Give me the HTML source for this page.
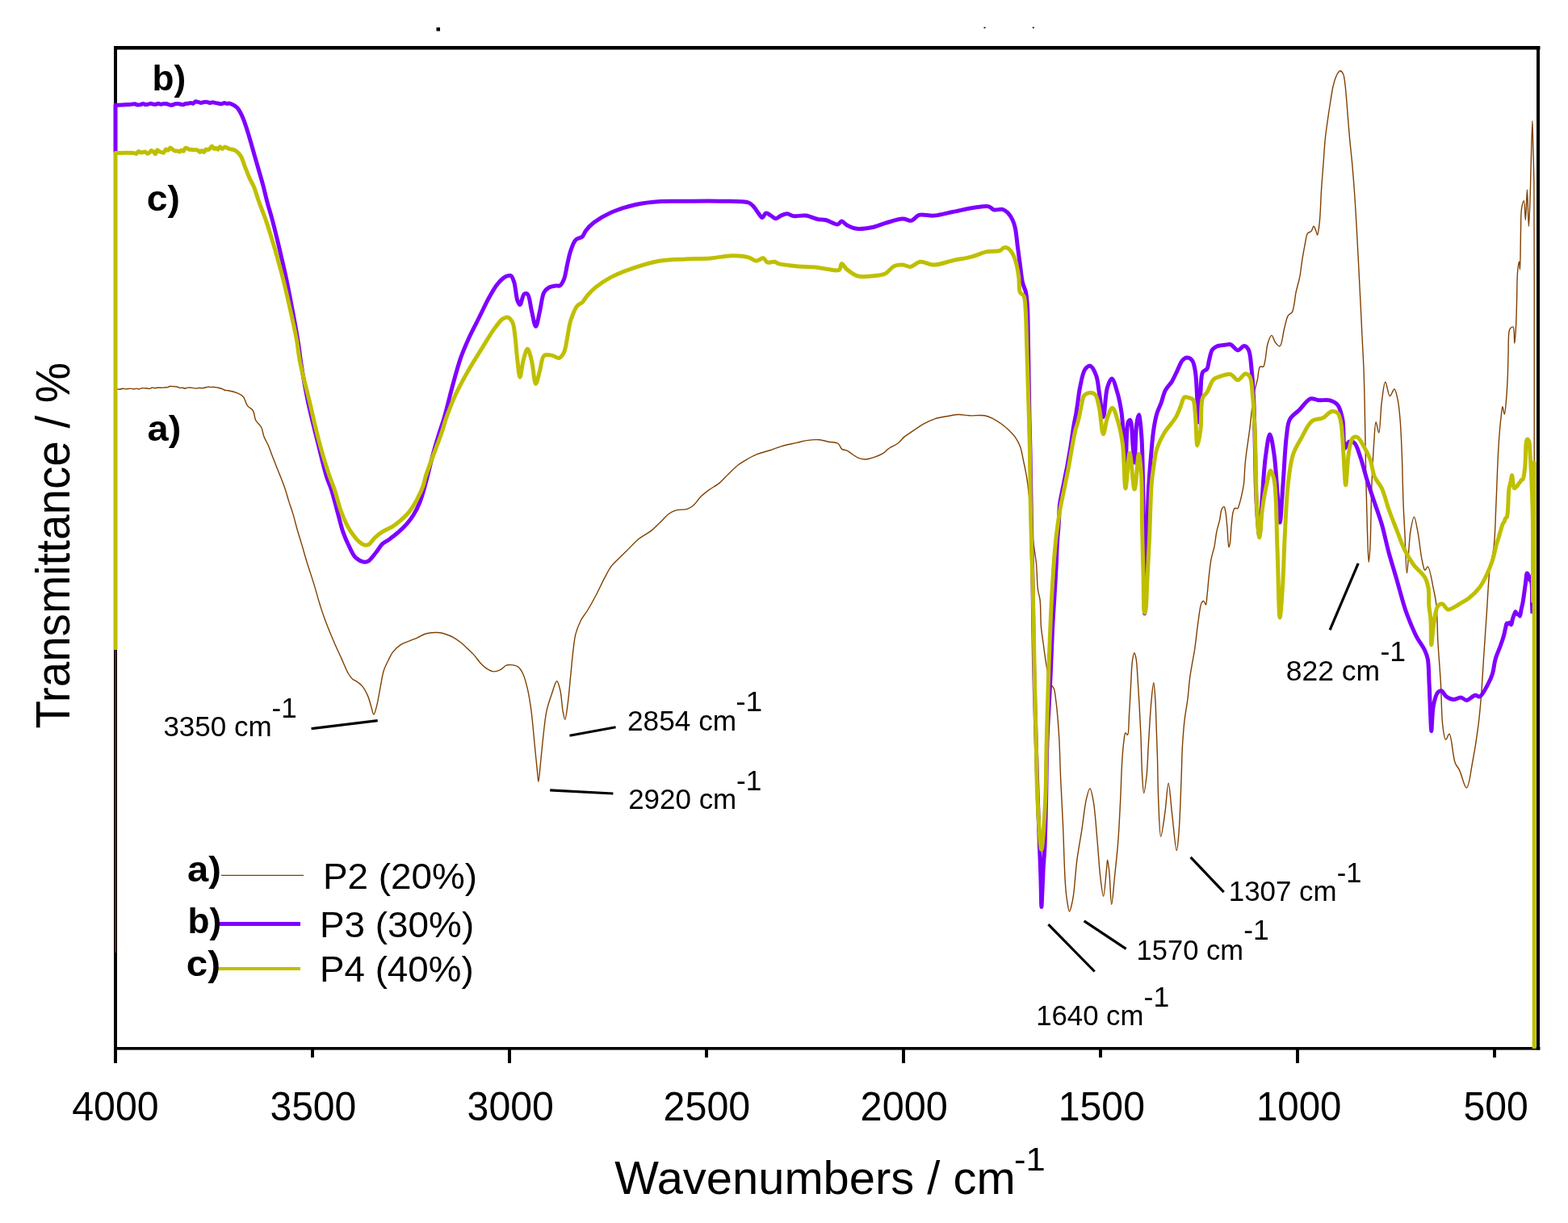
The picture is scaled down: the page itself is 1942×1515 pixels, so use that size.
<!DOCTYPE html>
<html><head><meta charset="utf-8"><title>FTIR spectra</title><style>html,body{margin:0;padding:0;background:#fff;}svg{display:block;}</style></head><body>
<svg width="1942" height="1515" viewBox="0 0 1942 1515" font-family="'Liberation Sans', Arial, Helvetica, sans-serif">
<rect width="1942" height="1515" fill="#fff"/>
<g fill="#000">
<rect x="141" y="57" width="1766.5" height="4.5"/>
<rect x="141" y="57" width="4" height="1243.5"/>
<rect x="1903" y="57" width="4" height="1243.5"/>
<rect x="141" y="1297" width="1766.5" height="3.6"/>
<rect x="141.0" y="1298" width="4" height="19"/>
<rect x="385.0" y="1298" width="4" height="12"/>
<rect x="629.0" y="1298" width="4" height="19"/>
<rect x="873.0" y="1298" width="4" height="12"/>
<rect x="1117.0" y="1298" width="4" height="19"/>
<rect x="1361.0" y="1298" width="4" height="12"/>
<rect x="1605.0" y="1298" width="4" height="19"/>
<rect x="1849.0" y="1298" width="4" height="12"/>
<rect x="540.5" y="34" width="4.5" height="4.5"/>
<rect x="1218.5" y="33.5" width="2" height="1.6"/>
<rect x="1278.8" y="33.5" width="2" height="1.6"/>
</g>
<path d="M143.0 1180.0L143.0 482.0C143.7 482.0 144.3 482.0 145.1 482.0C146.1 482.0 147.4 482.4 148.5 482.3C149.7 482.1 150.8 481.3 152.0 481.2C153.1 481.2 154.3 481.9 155.4 481.9C156.5 482.0 157.7 481.6 158.8 481.5C160.0 481.4 161.1 481.3 162.3 481.4C163.4 481.5 164.6 482.0 165.7 482.0C166.8 482.0 167.9 481.1 168.9 481.1C170.0 481.1 171.1 482.1 172.1 482.1C173.2 482.1 174.3 481.1 175.4 480.9C176.4 480.7 177.5 480.9 178.6 480.9C179.7 481.0 180.8 480.9 181.8 481.0C182.9 481.1 184.0 481.7 185.1 481.6C186.1 481.5 187.2 480.3 188.3 480.2C189.3 480.1 190.4 480.7 191.5 480.7C192.6 480.7 193.6 480.4 194.7 480.3C195.7 480.2 196.8 480.2 197.9 480.2C198.9 480.2 200.0 480.4 201.1 480.4C202.1 480.4 203.2 480.1 204.2 480.0C205.3 479.9 206.4 480.0 207.4 479.8C208.5 479.5 209.5 478.7 210.6 478.5C211.7 478.4 212.8 478.5 213.8 478.6C214.8 478.7 215.8 478.8 216.8 478.9C217.8 479.0 218.8 479.0 219.8 479.2C220.8 479.5 221.8 480.3 222.8 480.5C223.8 480.7 224.8 480.2 225.8 480.3C226.9 480.4 228.1 481.2 229.2 481.2C230.4 481.2 231.5 480.2 232.7 480.1C233.8 480.0 235.0 480.2 236.1 480.3C237.3 480.4 238.4 480.4 239.6 480.6C240.7 480.7 241.9 481.2 243.0 481.2C244.1 481.2 245.0 480.6 246.1 480.5C247.1 480.4 248.1 480.7 249.1 480.7C250.1 480.7 251.2 480.8 252.2 480.6C253.2 480.5 254.2 480.1 255.2 479.8C256.2 479.6 257.3 479.2 258.3 479.2C259.3 479.2 260.3 479.6 261.3 479.6C262.4 479.7 263.3 479.5 264.4 479.5C265.6 479.5 267.0 479.7 268.2 479.9C269.5 480.2 270.9 480.5 272.1 480.8C273.3 481.1 274.4 481.5 275.5 481.9C276.7 482.4 277.8 483.2 279.0 483.5C280.1 483.8 280.9 483.5 282.4 483.8C285.2 484.3 291.1 485.7 294.5 487.2C297.2 488.4 299.4 489.4 301.3 491.5C303.6 494.1 304.3 499.6 306.5 502.6C308.4 505.1 311.6 505.9 313.3 508.6C315.3 511.7 315.0 517.2 316.8 520.7C318.5 524.0 321.9 525.9 323.6 529.2C325.4 532.7 325.6 537.5 327.1 541.3C328.5 544.9 330.6 547.8 332.2 551.5C334.0 555.7 335.5 560.5 337.4 565.3C339.5 570.7 341.8 576.3 344.2 582.4C346.9 589.3 350.4 597.7 352.8 604.7C354.9 610.8 356.2 616.3 358.0 621.9C359.7 627.2 361.5 632.0 363.1 637.4C364.9 643.3 366.4 650.1 368.2 656.2C369.9 662.1 371.6 667.2 373.4 673.4C375.6 680.6 377.8 689.0 380.3 697.0C382.9 705.4 385.9 714.0 388.6 722.9C391.5 732.3 394.2 742.9 397.2 752.1C399.9 760.5 402.7 768.4 405.7 776.1C408.5 783.3 411.4 790.0 414.3 796.7C417.1 803.2 420.0 809.3 422.9 815.6C425.8 821.9 428.8 829.9 431.5 834.5C433.3 837.5 434.6 839.6 436.6 841.3C438.4 842.9 440.7 843.3 442.6 844.7C444.7 846.2 446.7 847.6 448.6 849.9C451.1 852.9 453.6 857.7 455.5 861.9C457.4 866.2 458.5 871.5 459.8 875.6C460.9 879.1 461.8 885.1 462.9 885.1C464.1 885.1 465.5 878.3 466.7 873.9C468.3 867.8 469.6 858.9 471.0 851.6C472.4 844.6 473.3 837.1 475.2 831.0C476.8 825.9 479.3 821.4 481.3 817.3C483.0 813.8 484.1 810.9 486.4 807.9C489.0 804.5 492.9 800.9 496.7 798.4C500.4 796.0 505.0 794.8 508.7 793.3C511.8 792.0 514.5 791.1 517.3 789.8C520.2 788.5 523.0 786.5 525.9 785.5C528.7 784.5 531.5 784.1 534.5 783.8C537.7 783.5 541.7 783.4 544.7 783.8C547.2 784.1 549.1 784.7 551.6 785.5C554.7 786.5 558.7 788.0 561.9 789.8C565.0 791.5 567.7 793.6 570.5 795.8C573.4 798.1 576.3 800.9 579.1 803.6C582.0 806.3 585.1 809.2 587.7 812.1C590.2 814.9 592.0 818.0 594.5 820.7C597.1 823.5 600.1 826.5 603.1 828.4C605.8 830.1 608.8 831.8 611.7 831.9C614.5 832.0 617.7 830.6 620.3 829.3C622.8 828.0 624.8 825.1 627.1 824.2C629.0 823.5 630.7 823.5 632.7 823.6C635.2 823.8 638.7 824.1 641.1 825.7C643.7 827.5 645.6 830.5 647.5 834.2C650.2 839.5 652.1 847.9 653.8 855.3C655.6 863.3 656.7 871.1 658.0 880.6C659.6 892.9 660.9 909.8 662.2 922.9C663.3 934.2 664.5 946.2 665.4 954.6C666.0 960.1 666.3 968.3 666.9 968.3C667.7 968.3 668.7 952.6 669.6 944.0C670.6 934.1 671.6 922.9 672.8 912.3C674.0 901.7 675.0 890.0 677.0 880.6C678.7 872.8 681.1 866.0 683.4 859.5C685.4 853.8 687.8 843.7 689.7 843.7C691.3 843.7 692.8 850.6 693.9 855.3C695.5 862.0 695.8 874.0 697.1 880.6C697.9 884.9 698.9 891.2 699.8 891.2C701.0 891.2 702.3 877.9 703.4 870.1C704.7 860.6 705.5 849.0 706.6 838.4C707.7 827.8 708.6 816.2 709.8 806.7C710.8 798.9 711.2 792.2 712.9 785.6C714.5 779.6 716.7 773.8 719.3 768.7C721.7 764.0 724.8 760.7 727.7 756.0C731.1 750.4 734.9 743.5 738.3 737.0C741.9 730.2 745.4 722.3 748.8 715.9C751.7 710.5 754.0 705.4 757.3 701.1C760.4 697.1 764.6 693.8 767.8 690.6C770.5 687.9 772.4 686.0 775.4 683.1C779.7 678.9 785.5 672.1 790.9 667.7C795.8 663.7 801.6 661.3 806.3 657.6C810.8 654.0 814.9 649.7 818.7 646.0C822.0 642.8 824.7 639.2 828.0 636.8C830.9 634.7 833.7 633.1 837.2 632.1C841.3 630.9 847.2 631.9 851.1 630.6C854.2 629.6 856.4 628.1 858.9 626.0C862.1 623.3 864.9 618.3 868.1 615.1C871.1 612.2 873.9 610.0 877.4 607.4C881.5 604.3 887.1 601.5 891.3 598.1C895.3 594.8 898.3 590.9 902.1 587.3C906.1 583.5 910.2 579.0 914.5 575.7C918.5 572.6 922.8 570.3 926.8 568.0C930.5 565.9 933.7 564.2 937.7 562.6C942.3 560.8 948.0 559.7 953.1 558.0C958.3 556.3 963.2 554.2 968.6 552.6C974.4 550.9 981.5 549.7 987.1 548.4C991.6 547.4 995.1 546.2 999.5 545.6C1004.3 544.9 1010.2 544.4 1014.9 544.8C1018.8 545.1 1022.0 546.4 1025.7 547.2C1029.7 548.0 1035.2 547.6 1038.1 549.5C1040.4 551.0 1040.7 554.9 1042.7 556.4C1044.5 557.7 1047.2 557.3 1049.4 558.3C1051.7 559.4 1053.7 561.5 1056.1 563.0C1058.6 564.6 1061.3 566.7 1064.1 567.7C1066.7 568.6 1069.3 569.1 1072.1 569.0C1075.4 568.9 1079.3 567.6 1082.8 566.4C1086.4 565.2 1090.4 563.7 1093.6 561.7C1096.6 559.8 1098.6 557.0 1101.6 555.0C1104.8 552.8 1109.1 551.4 1112.3 549.0C1115.3 546.7 1117.3 543.4 1120.3 540.9C1123.5 538.2 1127.2 536.1 1131.0 533.6C1135.2 530.8 1139.8 527.4 1144.4 524.9C1148.8 522.5 1153.0 520.4 1157.8 518.8C1162.8 517.2 1168.8 516.4 1173.9 515.5C1178.6 514.7 1182.8 513.6 1187.3 513.5C1191.8 513.4 1195.9 514.6 1200.7 514.8C1206.4 515.1 1214.1 513.8 1219.4 514.8C1223.5 515.5 1226.6 517.1 1230.1 518.8C1233.8 520.6 1237.4 523.0 1240.8 525.5C1244.1 528.0 1247.4 530.9 1250.2 533.6C1252.7 536.0 1254.8 538.0 1256.9 540.9C1259.4 544.4 1261.9 548.9 1263.6 553.6C1265.5 558.8 1266.3 565.0 1267.6 571.0C1269.0 577.4 1270.4 583.8 1271.6 591.1C1273.0 599.7 1274.0 609.6 1274.9 619.2C1275.8 629.2 1276.0 639.9 1277.0 650.0C1278.0 659.7 1279.6 669.9 1280.8 678.6C1281.8 685.8 1282.8 691.0 1283.5 698.4C1284.4 707.7 1284.3 721.8 1285.4 730.0C1286.1 735.4 1287.4 737.8 1288.1 743.2C1289.1 751.7 1288.6 766.6 1289.4 776.2C1290.0 783.7 1291.1 789.1 1292.0 796.0C1293.0 803.6 1293.9 811.7 1295.3 819.8C1296.8 828.4 1298.2 840.5 1300.6 846.2C1301.9 849.3 1304.0 850.0 1305.2 852.8C1306.8 856.8 1307.1 863.0 1307.9 868.6C1308.7 874.8 1309.3 881.3 1309.9 888.4C1310.6 896.6 1311.2 904.7 1311.8 914.8C1312.5 928.6 1312.9 946.6 1313.6 963.6C1314.4 982.1 1315.6 1001.3 1316.5 1021.7C1317.5 1044.6 1318.2 1077.5 1319.4 1094.3C1320.0 1103.3 1320.5 1108.8 1321.5 1115.0C1322.3 1120.2 1323.4 1129.0 1324.5 1129.1C1325.3 1129.2 1326.3 1124.8 1327.0 1122.0C1328.0 1118.3 1328.7 1114.5 1329.5 1108.8C1331.0 1098.5 1332.1 1079.0 1333.9 1065.2C1335.6 1052.5 1337.8 1041.2 1339.7 1028.9C1341.7 1016.1 1343.2 999.2 1345.5 989.7C1346.8 984.1 1348.5 976.6 1349.9 976.6C1351.4 976.6 1353.0 985.9 1354.2 992.6C1356.2 1003.5 1357.2 1021.1 1358.6 1036.2C1360.1 1052.5 1361.2 1073.4 1362.9 1087.0C1364.0 1096.3 1365.5 1110.2 1366.6 1110.2C1367.9 1110.2 1369.3 1088.0 1370.2 1079.7C1370.8 1074.0 1371.1 1065.2 1371.7 1065.2C1372.3 1065.2 1373.1 1073.6 1373.8 1079.7C1374.9 1089.8 1375.5 1120.4 1376.7 1120.4C1377.8 1120.4 1379.2 1098.9 1380.4 1087.0C1381.8 1073.4 1383.5 1058.5 1384.7 1043.4C1386.0 1027.1 1386.7 1009.5 1387.6 992.6C1388.4 975.7 1388.9 955.5 1389.8 941.8C1390.4 932.5 1391.0 924.6 1391.9 918.3C1392.5 914.1 1392.7 908.2 1393.9 907.8C1394.6 907.6 1395.8 910.7 1396.5 910.4C1398.3 909.7 1397.9 894.2 1398.5 885.3C1399.2 875.1 1399.7 863.3 1400.4 852.3C1401.0 841.3 1401.3 827.3 1402.4 819.4C1403.0 814.9 1403.9 808.8 1404.8 808.8C1405.5 808.8 1406.4 812.5 1407.0 815.4C1408.1 820.8 1408.4 830.6 1409.0 839.2C1409.7 849.3 1410.4 860.6 1411.0 872.1C1411.7 884.7 1412.4 897.8 1413.0 911.7C1413.6 927.0 1413.8 947.0 1414.6 960.0C1415.2 968.9 1415.8 982.4 1416.7 982.4C1417.6 982.4 1419.3 968.3 1420.2 960.0C1421.3 949.6 1421.5 936.4 1422.2 924.9C1422.9 913.7 1423.5 902.3 1424.2 891.9C1424.8 882.6 1425.4 873.6 1426.2 865.5C1426.9 858.4 1428.0 845.8 1428.8 845.8C1429.6 845.8 1430.3 858.1 1430.8 865.5C1431.5 875.1 1431.7 887.2 1432.1 898.5C1432.5 910.5 1433.0 921.8 1433.4 935.5C1433.9 952.5 1434.0 974.9 1434.8 992.6C1435.5 1008.1 1436.1 1036.1 1437.7 1036.2C1439.0 1036.3 1441.3 1017.4 1442.8 1007.1C1444.5 995.5 1445.7 970.1 1447.2 970.1C1448.6 970.1 1449.9 994.1 1451.5 1007.1C1453.3 1021.7 1455.7 1053.6 1457.3 1053.6C1458.5 1053.6 1459.4 1039.1 1460.2 1028.9C1461.5 1012.3 1462.4 982.5 1463.1 963.6C1463.7 949.0 1463.7 937.3 1464.4 924.9C1465.1 913.5 1465.9 902.3 1467.1 891.9C1468.2 882.6 1469.9 874.3 1471.0 865.5C1472.1 856.7 1472.7 846.9 1473.7 839.2C1474.5 833.2 1475.4 828.8 1476.3 823.3C1477.3 817.4 1478.5 812.0 1479.6 804.9C1481.1 795.3 1482.3 781.1 1483.9 770.7C1485.2 761.9 1486.2 749.9 1488.3 746.5C1489.1 745.3 1490.1 744.4 1490.9 744.6C1491.9 744.8 1492.9 749.3 1493.5 749.2C1494.4 749.0 1494.5 742.3 1494.9 738.6C1495.4 734.4 1495.8 729.8 1496.2 725.4C1496.6 721.0 1496.9 717.0 1497.5 712.2C1498.2 706.3 1498.9 698.6 1500.1 692.4C1501.2 686.8 1503.0 682.0 1504.1 676.6C1505.2 671.0 1505.6 665.0 1506.7 659.4C1507.8 654.0 1509.6 648.6 1510.7 643.6C1511.7 639.0 1511.9 633.0 1513.3 630.4C1514.0 629.0 1515.3 627.5 1516.0 627.7C1517.0 627.9 1517.4 631.5 1517.9 634.3C1518.8 638.9 1519.3 646.2 1519.9 652.8C1520.6 660.5 1521.0 677.8 1521.9 677.9C1522.3 677.9 1522.8 675.8 1523.2 673.9C1524.1 669.3 1524.5 657.3 1525.2 650.2C1525.8 644.4 1526.2 638.0 1527.2 634.3C1527.8 632.3 1528.1 630.4 1529.2 629.7C1530.2 629.1 1532.2 630.3 1533.1 629.7C1533.9 629.1 1533.9 627.9 1534.4 626.4C1535.5 623.1 1537.4 615.4 1538.4 610.6C1539.3 606.7 1539.8 604.4 1540.4 600.0C1541.3 592.9 1541.4 582.0 1542.4 571.8C1543.6 559.7 1546.0 545.7 1547.7 532.2C1549.5 518.0 1550.8 500.0 1552.9 488.6C1554.3 481.1 1556.1 476.0 1557.4 470.1C1558.6 464.6 1558.5 456.1 1560.6 454.3C1561.7 453.4 1563.6 455.1 1564.6 454.3C1566.0 453.2 1566.2 449.6 1566.9 446.3C1568.1 441.1 1568.4 431.3 1570.1 425.7C1571.4 421.6 1573.3 415.4 1574.9 415.4C1576.4 415.4 1577.7 421.9 1579.6 424.2C1581.2 426.2 1583.5 429.4 1585.1 428.9C1587.9 428.0 1588.8 413.5 1590.7 406.7C1592.3 401.0 1593.2 394.2 1595.4 390.9C1596.8 388.8 1599.0 388.7 1600.2 386.9C1601.6 384.7 1601.9 381.6 1602.6 378.2C1603.6 373.7 1603.9 367.9 1605.0 362.4C1606.2 356.3 1608.4 350.0 1609.7 343.4C1611.1 336.3 1611.8 328.1 1612.9 321.2C1613.9 315.0 1614.9 309.3 1616.0 303.8C1617.0 298.8 1617.9 291.7 1619.2 289.5C1619.7 288.7 1620.1 288.5 1620.8 288.1C1621.7 287.5 1623.1 287.4 1624.0 286.5C1625.3 285.2 1626.1 280.2 1627.1 280.2C1627.9 280.2 1628.8 283.3 1629.5 285.0C1630.3 286.9 1631.0 291.3 1631.6 291.3C1632.3 291.3 1633.0 285.4 1633.5 281.8C1634.2 277.2 1634.6 272.1 1635.0 265.9C1635.6 257.2 1635.9 244.8 1636.6 234.3C1637.3 223.7 1638.2 213.2 1639.0 202.6C1639.8 192.0 1640.4 180.7 1641.4 170.9C1642.3 162.4 1643.5 154.7 1644.6 147.1C1645.6 140.0 1646.6 133.2 1647.7 126.5C1648.7 120.0 1649.7 113.0 1650.9 107.5C1651.9 103.3 1652.9 99.5 1654.1 96.4C1655.0 94.0 1656.0 91.6 1657.2 90.1C1658.1 89.0 1659.1 87.6 1660.1 87.7C1661.3 87.8 1662.7 89.8 1663.6 91.7C1665.0 94.6 1665.2 99.4 1665.9 104.4C1666.9 111.7 1667.5 121.5 1668.3 131.3C1669.3 143.2 1670.4 158.4 1671.5 170.9C1672.5 182.1 1673.7 191.4 1674.7 202.6C1675.8 215.1 1676.9 229.0 1677.8 242.2C1678.7 255.4 1679.4 268.1 1680.2 281.8C1681.0 296.5 1681.8 312.1 1682.6 327.5C1683.4 343.2 1684.2 359.2 1685.0 375.0C1685.8 390.9 1686.6 408.3 1687.3 422.6C1687.9 434.2 1688.4 442.7 1688.9 454.3C1689.5 468.5 1689.8 483.7 1690.2 501.8C1690.7 526.1 1691.1 559.8 1691.7 586.9C1692.2 611.7 1692.8 638.1 1693.5 658.2C1694.0 672.9 1694.5 696.5 1695.2 696.5C1695.7 696.5 1696.5 684.9 1697.0 676.0C1697.9 659.4 1698.0 626.8 1698.8 604.8C1699.5 585.7 1700.4 566.3 1701.5 551.3C1702.3 540.3 1702.8 522.9 1704.2 522.8C1705.1 522.7 1706.7 536.2 1707.7 536.1C1709.4 536.0 1709.7 509.1 1711.3 497.8C1712.6 488.7 1713.9 473.4 1715.8 473.3C1717.4 473.2 1719.2 490.4 1721.4 490.7C1723.0 490.9 1725.4 481.8 1726.9 482.0C1728.6 482.2 1729.8 489.1 1730.9 493.9C1732.5 500.8 1733.3 510.3 1734.1 520.0C1735.1 531.9 1735.6 545.3 1736.2 560.2C1737.0 578.7 1737.3 604.7 1738.0 622.6C1738.5 636.1 1739.1 645.2 1739.8 658.2C1740.6 673.8 1741.3 709.9 1742.5 709.9C1743.7 709.9 1744.8 670.9 1746.9 658.2C1748.2 650.7 1749.9 640.4 1751.4 640.4C1752.9 640.4 1754.4 651.2 1755.8 658.2C1757.8 668.0 1759.3 685.1 1761.2 693.9C1762.4 699.1 1763.3 706.0 1764.8 706.3C1765.8 706.5 1767.2 701.7 1768.3 701.9C1770.8 702.4 1773.6 720.9 1775.4 729.5C1777.0 736.8 1778.1 741.9 1779.0 750.0C1780.3 761.8 1780.0 778.3 1780.8 793.5C1781.7 810.4 1783.4 829.1 1784.4 846.9C1785.4 864.7 1785.3 887.8 1787.0 900.4C1787.9 907.3 1788.9 916.1 1790.6 916.4C1791.8 916.6 1793.6 909.1 1795.0 909.3C1797.8 909.8 1799.2 937.2 1802.2 945.0C1803.8 949.1 1805.7 950.2 1807.5 953.9C1810.3 959.6 1813.8 976.3 1816.4 976.1C1819.4 975.9 1821.4 956.3 1823.6 945.0C1826.2 931.5 1828.9 914.5 1830.7 900.4C1832.3 887.9 1833.2 877.9 1834.3 864.8C1835.6 848.8 1836.6 829.1 1837.8 811.3C1839.0 793.5 1840.2 775.5 1841.4 757.8C1842.6 740.5 1843.2 721.2 1845.0 706.3C1846.4 694.8 1849.0 687.6 1850.3 676.0C1852.0 660.7 1852.1 641.1 1853.0 622.6C1853.9 602.6 1854.7 576.3 1855.6 560.0C1856.2 549.6 1856.7 542.2 1857.3 534.5C1857.8 528.0 1858.4 522.2 1859.1 516.7C1859.7 512.0 1860.1 503.6 1860.9 503.6C1861.6 503.6 1862.6 513.1 1863.3 513.1C1864.3 513.0 1865.1 500.3 1865.7 492.9C1866.5 484.0 1867.0 472.6 1867.4 463.2C1867.7 454.8 1867.7 447.8 1868.0 439.4C1868.3 430.0 1867.9 414.7 1869.2 409.7C1869.7 407.9 1870.1 407.0 1871.0 406.2C1871.8 405.5 1873.2 404.5 1874.0 405.0C1876.0 406.2 1875.2 425.2 1875.8 425.2C1876.4 425.2 1877.1 412.4 1877.5 405.0C1878.0 396.1 1878.2 385.9 1878.5 375.4C1878.9 363.6 1878.7 347.2 1879.5 337.8C1880.0 332.1 1881.0 324.0 1881.5 324.0C1881.9 324.0 1882.2 333.9 1882.5 333.9C1883.1 333.9 1883.1 300.0 1883.5 286.3C1883.8 275.8 1883.4 265.5 1884.5 258.6C1885.2 254.4 1886.6 248.6 1887.4 248.7C1888.6 248.8 1888.8 272.5 1889.4 272.5C1890.2 272.5 1890.8 234.9 1891.4 234.9C1892.1 234.9 1892.7 280.4 1893.4 280.4C1894.0 280.4 1894.9 251.0 1895.3 238.8C1895.6 229.2 1895.7 222.0 1895.9 213.1C1896.1 203.6 1896.4 193.6 1896.7 183.4C1897.0 172.5 1897.6 149.7 1897.9 149.7C1898.2 149.7 1898.4 168.2 1898.7 179.4C1899.1 193.8 1899.6 207.0 1899.9 228.9C1900.5 271.9 1900.1 356.3 1900.2 420.0L1900.2 1298.0" fill="none" stroke="#804000" stroke-width="1.4" stroke-linejoin="round"/>
<path d="M143.0 189.0L143.0 130.0C143.7 130.1 144.0 130.2 145.0 130.2C147.7 130.3 156.8 129.7 160.0 129.5C161.6 129.4 162.3 129.3 163.5 129.1C164.6 129.0 165.8 128.7 166.9 128.8C168.1 128.9 169.3 129.8 170.4 129.9C171.6 130.0 172.8 129.8 173.9 129.6C175.0 129.4 176.0 128.6 177.1 128.6C178.2 128.6 179.3 129.4 180.3 129.5C181.4 129.6 182.5 129.3 183.6 129.1C184.6 128.9 185.7 128.3 186.8 128.3C187.9 128.3 188.9 129.0 190.0 129.2C191.0 129.4 192.1 129.4 193.1 129.3C194.1 129.1 195.2 128.3 196.2 128.3C197.2 128.3 198.3 129.2 199.3 129.2C200.3 129.2 201.4 128.6 202.4 128.5C203.4 128.3 204.5 128.4 205.5 128.5C206.5 128.7 207.6 129.0 208.6 129.3C209.6 129.6 210.7 130.2 211.7 130.3C212.7 130.3 213.8 129.9 214.8 129.6C215.8 129.3 216.8 128.7 217.8 128.6C218.8 128.4 219.9 128.4 220.9 128.6C221.9 128.7 222.9 129.0 223.9 129.2C224.9 129.4 226.0 129.8 227.0 129.7C228.0 129.6 229.0 128.7 230.0 128.5C231.0 128.3 232.0 128.4 233.0 128.2C234.1 128.0 235.1 127.4 236.1 127.4C237.1 127.4 238.2 128.4 239.1 128.2C240.2 128.0 241.1 126.0 242.2 125.7C243.1 125.5 244.1 126.0 245.2 126.3C246.4 126.6 247.7 127.4 248.9 127.4C250.1 127.4 251.4 126.6 252.6 126.4C253.8 126.3 255.1 126.2 256.3 126.4C257.5 126.6 258.8 127.4 260.0 127.5C261.1 127.5 262.2 126.8 263.3 126.8C264.4 126.8 265.6 127.2 266.7 127.4C267.8 127.6 268.8 127.8 270.0 128.0C271.3 128.2 272.6 128.9 273.9 128.8C275.2 128.8 276.5 127.6 277.8 127.6C279.1 127.5 280.6 128.4 281.7 128.4C282.6 128.4 283.2 127.8 284.1 127.9C285.5 128.0 287.4 129.1 289.0 130.0C290.7 130.9 292.2 131.7 293.8 133.4C296.2 136.1 298.6 140.9 300.8 145.9C303.8 152.7 306.7 163.1 309.1 170.9C311.2 177.8 312.8 183.8 314.6 190.3C316.5 196.8 318.3 203.2 320.2 209.7C322.0 216.2 323.9 222.4 325.7 229.1C327.6 236.2 329.3 244.1 331.2 251.2C333.0 257.9 334.8 263.2 336.8 270.6C339.4 280.2 342.4 292.6 345.1 303.9C347.9 315.7 350.7 327.4 353.4 339.9C356.3 353.2 359.0 367.2 361.7 381.5C364.6 396.7 368.1 416.2 370.0 428.6C371.2 436.6 371.3 440.3 372.6 448.4C374.6 461.2 378.0 481.4 381.5 497.9C385.0 514.5 389.5 531.5 393.4 547.4C397.1 562.1 400.9 579.2 404.3 590.0C406.4 596.8 408.4 600.1 410.4 606.4C413.1 614.6 415.8 626.2 418.3 635.4C420.6 643.7 422.3 651.8 424.9 659.2C427.2 665.8 430.0 672.1 432.8 677.7C435.3 682.6 437.3 687.8 440.7 690.9C443.7 693.6 448.3 695.9 451.3 696.2C453.3 696.4 454.8 695.9 456.6 694.8C459.5 693.0 462.9 687.9 465.8 684.3C468.6 680.8 470.8 676.4 473.7 673.7C476.2 671.4 478.8 670.5 481.7 668.4C485.3 665.8 489.8 662.5 493.5 659.2C497.2 655.9 500.9 652.3 504.1 648.6C507.1 645.2 509.5 642.0 512.0 638.0C514.9 633.4 517.7 627.7 519.9 622.2C522.1 616.7 523.8 610.6 525.4 605.1C526.9 599.9 527.9 595.8 529.4 590.0C531.4 582.1 534.0 571.0 536.5 562.0C538.8 553.5 541.3 545.3 543.7 537.5C545.9 530.3 548.0 525.0 550.3 517.0C553.5 506.0 557.1 490.3 560.6 477.5C563.9 465.4 567.2 453.0 570.9 442.4C574.1 433.3 577.5 425.9 581.2 417.7C585.0 409.4 589.5 401.2 593.6 393.0C597.7 384.8 601.8 375.6 605.9 368.3C609.3 362.2 612.4 356.3 616.2 351.8C619.4 348.0 623.3 344.2 626.5 342.6C628.7 341.5 631.1 340.7 632.7 341.5C634.7 342.5 635.6 346.3 636.8 349.8C638.6 355.4 639.1 367.6 640.9 372.4C641.8 374.9 642.9 377.7 644.0 377.6C645.6 377.5 646.9 365.8 649.2 364.2C650.4 363.4 652.1 363.3 653.3 364.2C656.0 366.3 656.7 378.0 658.4 384.8C660.1 391.4 661.9 404.3 663.6 404.3C665.3 404.3 667.0 391.6 668.7 384.8C670.5 377.5 671.1 367.0 673.9 362.1C675.6 359.1 677.7 357.4 680.1 356.0C682.5 354.7 685.9 354.2 688.3 353.9C690.2 353.7 691.9 354.7 693.4 353.9C695.5 352.7 697.2 349.1 698.6 345.6C700.6 340.8 701.3 333.1 702.7 327.1C704.0 321.4 705.0 315.7 706.8 310.6C708.5 305.8 710.1 300.1 713.0 297.2C715.3 294.9 719.2 295.1 721.3 293.1C723.3 291.2 723.5 288.4 725.4 285.9C727.9 282.6 731.4 278.9 735.7 275.6C741.2 271.4 748.5 267.0 756.3 263.5C765.4 259.4 776.8 255.8 787.2 253.5C797.4 251.2 807.8 250.2 818.1 249.5C828.4 248.8 838.0 249.3 849.0 249.3C861.7 249.2 876.8 248.9 890.1 249.2C902.8 249.5 920.2 248.4 927.2 251.0C930.4 252.2 931.5 254.0 933.4 256.0C935.6 258.3 937.7 262.1 939.6 264.5C941.1 266.4 942.5 269.4 944.0 269.4C945.5 269.4 946.8 264.4 948.6 264.0C950.4 263.6 952.8 266.0 954.8 267.1C956.9 268.2 958.9 270.7 961.0 270.7C963.1 270.7 965.0 268.1 967.2 267.1C969.6 266.1 972.3 264.7 974.9 264.8C977.5 264.9 979.5 267.1 982.6 267.6C986.8 268.3 993.0 266.4 998.1 267.1C1003.3 267.8 1009.0 271.0 1013.5 271.8C1016.8 272.4 1019.1 271.8 1022.4 272.5C1026.9 273.4 1034.3 278.5 1037.8 277.9C1039.9 277.5 1040.7 274.1 1042.4 274.1C1044.3 274.1 1046.1 277.3 1048.6 278.7C1051.9 280.5 1056.4 282.7 1061.0 283.3C1066.5 284.1 1073.5 283.0 1079.5 281.8C1085.4 280.6 1090.5 278.1 1096.5 276.4C1103.2 274.5 1112.1 271.1 1118.1 271.0C1122.3 270.9 1125.7 274.0 1129.0 273.3C1132.4 272.5 1134.3 267.5 1138.2 266.3C1143.1 264.8 1150.3 267.6 1156.8 267.1C1164.1 266.5 1171.8 264.1 1179.9 262.5C1188.7 260.8 1199.5 258.2 1207.7 257.1C1214.0 256.2 1220.6 254.7 1224.7 255.8C1227.4 256.5 1228.4 259.2 1230.9 259.9C1233.9 260.7 1238.7 258.6 1241.7 259.4C1244.2 260.1 1246.0 261.5 1247.9 263.3C1250.2 265.6 1252.5 269.3 1254.1 272.5C1255.6 275.5 1256.3 278.0 1257.2 281.8C1258.6 287.7 1259.3 297.3 1260.3 305.0C1261.3 312.7 1262.4 320.5 1263.4 328.1C1264.4 335.5 1265.1 343.8 1266.5 350.0C1267.6 354.7 1269.5 357.5 1270.5 362.0C1271.7 367.3 1272.0 373.1 1272.5 380.0C1273.1 389.3 1273.1 400.6 1273.3 412.8C1273.6 428.3 1273.8 448.0 1274.1 465.6C1274.4 483.2 1274.7 501.8 1275.0 518.4C1275.3 533.1 1275.7 543.9 1276.0 560.0C1276.5 582.3 1276.8 613.3 1277.3 640.0C1277.8 666.7 1278.5 691.8 1279.0 720.0C1279.6 751.5 1279.8 786.7 1280.5 820.0C1281.2 853.3 1282.3 889.5 1283.2 920.0C1283.9 945.7 1284.6 968.2 1285.4 991.0C1286.1 1012.1 1287.0 1036.5 1287.6 1052.0C1288.0 1061.5 1288.2 1067.3 1288.5 1075.0C1288.8 1082.7 1289.0 1090.1 1289.2 1098.0C1289.4 1106.3 1289.6 1123.5 1289.9 1123.5C1290.2 1123.5 1290.8 1106.3 1291.2 1098.0C1291.6 1090.1 1291.8 1082.7 1292.2 1075.0C1292.6 1067.3 1293.3 1061.5 1293.8 1052.0C1294.6 1036.5 1295.1 1012.1 1295.6 991.0C1296.1 968.2 1296.1 944.4 1296.9 920.0C1297.8 894.1 1299.8 864.8 1301.0 840.0C1302.0 818.6 1302.6 798.0 1303.5 780.0C1304.2 765.3 1305.1 753.3 1305.9 740.0C1306.7 726.7 1307.6 712.2 1308.2 700.0C1308.7 689.7 1308.9 680.8 1309.5 671.5C1310.0 662.5 1311.0 653.2 1311.5 645.0C1311.9 637.9 1311.7 631.6 1312.5 625.0C1313.3 618.4 1314.8 612.5 1316.1 605.5C1317.7 597.4 1319.7 588.0 1321.4 579.2C1323.0 570.4 1324.6 561.6 1326.0 552.8C1327.4 544.0 1328.7 533.7 1330.0 526.4C1330.9 521.2 1331.8 517.6 1332.6 513.2C1333.4 508.8 1333.9 504.8 1334.6 500.0C1335.5 494.1 1336.1 487.0 1337.5 480.2C1339.1 472.9 1340.7 462.0 1343.8 457.6C1345.6 455.1 1348.1 452.8 1350.1 453.2C1352.8 453.7 1355.8 460.3 1357.6 465.1C1359.9 471.0 1360.1 478.7 1361.4 486.4C1363.0 495.6 1364.8 516.5 1366.4 516.5C1368.2 516.5 1368.8 488.7 1371.4 480.2C1372.9 475.2 1375.1 468.8 1377.0 468.9C1379.3 469.0 1382.0 480.0 1383.9 486.4C1386.1 493.6 1387.5 501.0 1388.9 510.2C1390.7 522.8 1391.8 543.1 1392.7 555.4C1393.4 563.9 1393.6 577.0 1394.2 577.0C1395.1 577.0 1394.4 529.5 1397.2 523.0C1397.9 521.3 1399.1 520.0 1399.8 520.3C1402.0 521.0 1402.2 542.5 1403.1 552.0C1403.9 559.7 1404.5 573.1 1405.1 573.1C1406.0 573.1 1406.2 536.1 1407.7 525.6C1408.4 520.3 1409.6 513.7 1410.4 513.7C1411.6 513.8 1412.9 528.6 1413.7 538.8C1415.0 554.4 1415.1 576.8 1415.6 598.2C1416.2 623.3 1416.3 652.9 1416.6 680.0C1416.9 706.8 1417.1 760.0 1417.6 760.0C1418.0 760.0 1418.8 718.0 1419.3 700.0C1419.7 685.3 1420.0 674.5 1420.5 660.0C1421.1 642.9 1421.7 621.0 1422.6 604.0C1423.4 589.8 1424.4 577.4 1425.5 565.0C1426.5 553.6 1427.4 541.7 1428.8 532.2C1429.9 524.7 1431.0 518.3 1432.8 512.4C1434.3 507.5 1436.4 503.8 1438.1 499.2C1439.9 494.2 1441.0 488.0 1443.4 483.4C1445.5 479.3 1448.9 476.6 1451.3 472.8C1453.8 468.7 1455.7 464.0 1457.9 459.6C1460.1 455.2 1462.0 449.2 1464.5 446.4C1466.1 444.6 1467.9 443.2 1469.8 443.1C1471.9 443.0 1474.7 444.4 1476.4 446.4C1478.7 449.1 1479.3 453.9 1480.3 459.6C1482.0 469.2 1482.3 487.7 1483.0 499.2C1483.5 508.1 1483.8 523.0 1484.3 523.0C1485.0 523.0 1485.9 497.1 1486.9 486.0C1487.7 476.8 1487.0 465.4 1489.6 460.9C1490.9 458.6 1493.6 458.9 1494.9 457.0C1496.6 454.5 1496.5 450.1 1497.5 446.4C1498.6 442.2 1499.5 436.1 1501.5 433.2C1502.9 431.2 1504.5 430.2 1506.7 429.2C1509.5 428.0 1514.2 427.7 1517.3 427.3C1519.8 427.0 1521.7 425.9 1523.9 426.6C1526.9 427.5 1530.1 433.8 1533.1 433.9C1535.8 434.0 1538.8 428.4 1541.1 428.6C1543.1 428.7 1544.9 430.7 1546.3 433.2C1549.0 438.2 1549.2 449.9 1550.3 459.6C1551.6 471.4 1552.2 484.6 1552.9 499.2C1553.7 517.3 1554.0 539.8 1554.5 560.0C1555.0 580.1 1555.0 601.6 1556.0 620.0C1556.9 635.8 1558.6 664.0 1559.8 664.0C1561.0 664.0 1561.8 635.5 1563.0 620.0C1564.3 602.7 1565.4 580.3 1567.5 565.2C1569.0 554.5 1570.9 538.0 1572.7 538.0C1574.4 538.0 1576.6 553.0 1578.0 562.6C1580.0 575.8 1580.8 595.1 1582.0 610.0C1583.1 623.2 1584.0 647.3 1585.1 647.3C1586.3 647.3 1587.7 616.7 1589.0 600.0C1590.5 581.1 1591.5 554.1 1593.5 539.4C1594.6 531.0 1594.5 525.0 1597.4 519.6C1600.0 514.6 1605.2 511.8 1609.3 507.7C1613.7 503.3 1618.6 495.3 1623.2 493.9C1626.5 492.9 1629.5 495.5 1633.1 495.8C1637.3 496.2 1642.8 494.7 1646.9 495.8C1650.6 496.8 1654.3 498.6 1656.8 501.8C1660.0 505.8 1661.3 512.5 1662.8 519.6C1664.8 529.3 1663.2 554.6 1665.7 555.2C1667.0 555.5 1668.5 548.2 1670.7 547.3C1672.6 546.5 1675.5 547.0 1677.4 548.6C1680.6 551.2 1682.3 559.0 1684.6 565.5C1687.7 574.1 1690.4 586.0 1693.5 595.8C1696.4 605.0 1699.4 613.7 1702.4 622.6C1705.4 631.5 1708.5 639.7 1711.3 649.3C1714.5 660.3 1717.1 673.6 1720.2 685.0C1723.1 695.5 1726.1 704.8 1729.1 715.3C1732.3 726.5 1736.2 741.2 1738.9 750.0C1740.6 755.5 1741.5 758.2 1743.4 763.2C1746.1 770.2 1750.3 780.6 1754.1 788.1C1757.5 794.7 1762.4 800.7 1764.8 806.0C1766.6 809.9 1767.4 812.1 1768.3 816.6C1769.7 824.0 1769.5 835.8 1770.1 846.9C1770.8 860.3 1771.3 880.8 1771.9 891.5C1772.2 897.6 1772.4 905.7 1772.8 905.7C1773.4 905.7 1773.6 882.5 1775.4 873.7C1776.7 867.3 1778.4 860.2 1780.8 857.6C1782.1 856.2 1783.7 855.5 1785.2 855.8C1787.3 856.3 1789.0 861.2 1791.5 863.0C1794.0 864.8 1797.4 866.4 1800.4 866.5C1803.3 866.6 1806.5 863.7 1809.3 863.9C1811.8 864.1 1813.8 867.5 1816.4 867.4C1819.6 867.3 1824.1 861.5 1827.1 861.2C1829.2 861.0 1830.7 863.6 1832.5 863.0C1835.9 861.8 1840.4 852.0 1843.2 846.9C1845.5 842.6 1847.1 839.1 1848.5 834.5C1850.2 829.2 1850.5 822.2 1852.1 816.6C1853.5 811.5 1856.1 805.9 1857.4 802.4C1858.2 800.3 1858.6 799.1 1859.2 797.4C1859.8 795.7 1860.4 794.1 1861.0 792.3C1861.6 790.4 1862.2 788.4 1862.8 786.3C1863.4 783.9 1863.9 781.0 1864.5 778.6C1865.1 776.3 1865.4 772.5 1866.3 772.1C1866.8 771.9 1867.5 773.0 1868.1 772.9C1868.7 772.8 1869.3 771.1 1869.9 771.2C1870.5 771.3 1871.2 774.0 1871.7 773.9C1872.5 773.8 1872.8 768.6 1873.5 766.4C1874.0 764.7 1874.6 763.2 1875.2 761.8C1875.8 760.4 1876.4 757.9 1877.0 757.8C1877.6 757.8 1878.1 759.9 1878.8 760.5C1879.3 760.9 1880.0 760.7 1880.6 761.1C1881.3 761.5 1881.9 763.3 1882.4 763.2C1883.3 763.0 1883.5 757.1 1884.2 754.3C1884.7 751.7 1885.4 749.8 1885.9 747.1C1886.6 743.6 1887.1 739.2 1887.7 735.1C1888.3 730.9 1888.9 726.3 1889.5 722.1C1890.1 717.9 1890.3 710.1 1891.3 709.9C1891.8 709.8 1892.5 711.4 1893.1 712.5C1893.8 714.0 1894.1 717.0 1894.8 718.4C1895.3 719.4 1896.1 719.3 1896.6 720.6C1898.1 724.7 1897.2 742.8 1897.5 750.0C1897.7 754.2 1897.8 756.7 1898.0 760.0" fill="none" stroke="#7f00ff" stroke-width="5" stroke-linejoin="round"/>
<path d="M143.0 805.0L143.0 189.5C143.7 189.5 144.0 189.5 145.0 189.5C148.3 189.5 162.3 189.0 166.0 189.6C167.4 189.8 167.9 190.7 168.8 190.5C169.8 190.2 170.6 187.6 171.6 187.4C172.5 187.3 173.4 188.9 174.4 189.1C175.3 189.2 176.3 188.7 177.2 188.5C178.1 188.3 179.2 187.8 180.0 188.0C180.9 188.3 181.6 190.0 182.4 190.2C183.2 190.3 184.1 189.8 184.9 189.2C185.8 188.6 186.5 186.7 187.4 186.5C188.1 186.4 189.0 187.1 189.8 187.7C190.7 188.4 191.6 190.9 192.4 190.8C193.3 190.7 193.9 186.0 194.9 185.8C195.7 185.6 196.6 187.4 197.4 187.8C198.3 188.2 199.1 188.2 200.0 188.5C200.9 188.8 201.9 189.6 202.7 189.3C203.8 188.9 204.3 185.3 205.4 185.0C206.2 184.8 207.3 186.5 208.1 186.3C209.1 186.1 209.8 183.1 210.8 182.9C211.7 182.8 212.5 184.3 213.5 185.0C214.5 185.7 215.6 186.7 216.8 187.0C217.8 187.3 219.0 186.8 220.0 187.0C220.9 187.2 221.6 188.0 222.4 187.9C223.2 187.8 224.0 186.2 224.8 186.1C225.6 186.0 226.5 187.5 227.2 187.3C228.1 187.0 228.6 183.7 229.6 183.2C230.3 182.9 231.2 183.4 232.0 183.7C232.9 184.1 233.7 185.1 234.6 185.4C235.5 185.6 236.4 185.2 237.3 185.3C238.2 185.4 239.0 185.7 239.9 185.7C240.8 185.8 241.7 185.4 242.6 185.5C243.4 185.6 244.4 185.8 245.2 186.3C246.1 186.8 246.8 188.4 247.6 188.4C248.4 188.5 249.2 186.5 250.0 186.5C250.8 186.5 251.7 188.6 252.5 188.5C253.4 188.4 254.0 185.5 255.0 185.1C255.8 184.8 256.7 185.8 257.5 185.6C258.4 185.4 259.2 184.7 260.0 184.0C260.9 183.2 261.7 180.9 262.5 180.9C263.3 180.9 264.0 184.0 265.0 184.3C265.7 184.6 266.6 183.4 267.4 183.6C268.3 183.7 269.2 185.3 269.9 185.2C270.8 185.0 271.5 181.9 272.4 181.8C273.3 181.7 274.4 184.4 275.4 184.4C276.4 184.4 277.3 182.0 278.4 181.9C279.3 181.7 280.3 182.7 281.3 183.1C282.3 183.6 283.1 184.1 284.3 184.5C286.1 185.1 288.9 184.9 291.0 186.1C293.5 187.5 296.0 190.0 298.0 193.0C300.4 196.6 301.7 202.3 303.5 206.9C305.4 211.5 307.2 216.5 309.1 220.8C310.9 224.7 312.9 227.7 314.6 231.8C316.6 236.7 318.1 242.6 320.2 248.5C322.6 255.4 326.1 263.7 328.5 270.6C330.6 276.5 332.0 281.0 334.0 287.3C336.5 295.4 339.6 305.5 342.3 315.0C345.1 324.9 347.9 334.9 350.6 345.5C353.5 357.0 356.3 369.3 359.0 381.5C361.8 394.2 365.1 408.4 367.3 420.3C369.1 430.4 369.5 437.8 371.6 448.4C374.4 462.6 379.5 481.4 383.5 497.9C387.4 514.4 391.0 531.6 395.3 547.4C399.3 562.2 404.5 579.2 408.2 590.0C410.5 596.8 412.2 600.2 414.3 606.4C416.9 614.1 419.3 624.9 422.2 632.8C424.7 639.6 427.5 646.1 430.2 651.3C432.4 655.4 434.5 658.6 436.8 661.8C438.9 664.7 440.9 667.6 443.4 669.8C445.8 671.9 448.8 674.4 451.3 675.0C453.2 675.4 454.8 675.3 456.6 674.4C459.2 673.1 461.5 668.5 464.5 665.8C467.6 663.0 471.4 660.1 475.0 657.9C478.4 655.8 482.2 654.7 485.6 652.6C489.2 650.4 492.8 647.7 496.2 644.7C499.8 641.5 503.5 638.1 506.7 634.1C510.1 629.8 513.2 624.7 516.0 619.6C518.9 614.2 522.0 607.7 523.9 602.4C525.5 598.0 525.5 595.5 527.2 590.0C530.8 578.5 542.0 550.6 546.5 537.5C549.2 529.7 549.9 525.7 552.4 518.7C555.6 509.6 560.0 498.0 564.7 487.8C569.5 477.4 575.5 466.8 581.2 456.9C586.6 447.6 592.4 438.6 597.7 430.1C602.6 422.2 607.5 413.7 612.1 407.4C615.7 402.5 619.1 397.4 622.4 395.1C624.5 393.7 626.7 392.5 628.6 393.0C630.8 393.5 633.2 396.3 634.7 399.2C636.8 403.2 636.9 409.3 637.8 415.7C639.0 424.4 639.7 437.4 640.9 446.6C641.8 454.2 642.8 467.2 644.0 467.2C645.2 467.2 646.4 452.8 648.1 446.6C649.6 441.3 651.6 432.2 653.3 432.2C655.0 432.2 656.9 440.9 658.4 446.6C660.5 454.5 661.6 475.3 663.6 475.4C665.1 475.5 667.0 464.6 668.7 458.9C670.5 452.9 670.5 443.0 673.9 440.4C676.4 438.5 681.0 439.8 684.2 440.4C687.1 440.9 690.0 444.1 692.4 443.5C694.9 442.9 697.0 439.5 698.6 436.3C700.9 431.7 701.4 424.1 702.7 417.7C704.1 411.0 704.7 403.7 706.8 397.1C708.9 390.6 711.9 382.3 715.1 378.6C717.0 376.3 719.4 376.3 721.3 374.5C723.5 372.4 725.0 369.0 727.4 366.2C730.3 362.8 733.6 359.3 737.7 355.9C742.8 351.7 749.1 347.4 756.3 343.6C765.1 339.0 776.8 334.7 787.2 331.2C797.4 327.8 807.7 324.7 818.1 323.0C828.3 321.3 838.7 321.4 849.0 320.9C859.3 320.4 870.0 320.6 879.9 319.9C889.1 319.2 898.3 316.9 906.6 316.8C913.9 316.7 922.0 317.4 927.2 318.9C930.7 319.9 933.1 322.7 935.5 323.0C937.2 323.2 938.5 322.5 940.0 322.0C941.8 321.4 943.9 319.2 945.5 319.6C947.3 320.0 948.1 324.1 950.2 325.0C952.6 326.0 957.0 323.8 959.5 324.3C961.4 324.7 962.0 326.0 964.1 326.6C967.7 327.7 974.1 328.3 979.5 328.9C985.4 329.6 992.6 330.2 998.1 330.5C1002.5 330.8 1005.8 330.5 1010.0 330.9C1014.8 331.4 1020.4 332.9 1025.4 333.5C1030.2 334.0 1036.6 336.1 1039.4 334.3C1041.5 332.9 1040.9 326.9 1042.4 326.6C1043.9 326.3 1045.9 331.3 1048.6 333.5C1052.2 336.5 1057.4 340.6 1062.5 342.0C1067.7 343.5 1073.9 342.5 1079.5 342.0C1085.2 341.5 1091.7 341.3 1096.5 339.0C1100.8 336.9 1103.4 331.5 1107.3 329.7C1110.7 328.1 1114.7 327.9 1118.1 328.1C1121.3 328.3 1124.1 330.8 1127.4 330.5C1131.3 330.1 1135.2 324.9 1139.8 324.3C1144.9 323.7 1150.7 328.1 1156.8 328.1C1163.9 328.1 1172.2 324.4 1179.9 322.7C1187.6 321.0 1195.9 320.0 1203.1 318.1C1209.7 316.4 1215.6 313.2 1221.7 311.9C1227.4 310.7 1234.8 311.9 1238.6 310.4C1240.8 309.5 1241.6 307.3 1243.3 306.8C1244.8 306.4 1246.4 306.5 1247.9 307.3C1250.0 308.4 1252.4 311.4 1254.1 314.2C1256.1 317.6 1257.5 322.1 1258.7 326.6C1260.1 331.8 1261.0 337.8 1261.8 343.6C1262.6 349.6 1261.6 358.2 1263.4 362.1C1264.5 364.4 1266.9 364.2 1268.0 366.5C1270.0 370.6 1269.7 378.6 1270.3 386.4C1271.1 397.3 1271.1 411.1 1271.6 426.0C1272.2 445.2 1273.0 469.8 1273.6 492.0C1274.3 514.5 1275.1 538.1 1275.5 560.0C1275.9 580.4 1275.8 598.0 1276.2 619.2C1276.7 643.7 1277.6 676.2 1278.2 698.4C1278.7 714.5 1279.1 724.4 1279.5 740.0C1280.0 760.1 1280.4 786.4 1280.8 809.2C1281.2 831.5 1281.6 855.3 1282.1 875.2C1282.5 891.6 1282.9 903.4 1283.3 920.0C1283.8 941.0 1283.8 968.2 1285.0 991.0C1286.1 1012.3 1288.2 1052.5 1289.8 1052.5C1291.4 1052.5 1293.6 1012.3 1294.7 991.0C1295.8 968.2 1295.6 944.7 1296.2 920.0C1296.9 893.1 1297.8 860.4 1298.6 835.6C1299.3 815.9 1299.9 799.5 1300.6 782.8C1301.2 767.8 1301.8 755.2 1302.6 740.0C1303.6 722.7 1304.9 699.8 1306.2 684.7C1307.1 674.3 1307.8 667.1 1308.9 658.3C1310.0 649.5 1311.3 640.7 1312.8 631.9C1314.3 623.1 1316.3 614.3 1318.1 605.5C1319.9 596.7 1321.7 588.0 1323.4 579.2C1325.0 570.4 1326.5 561.0 1328.0 552.8C1329.3 545.7 1330.6 538.3 1331.9 533.0C1332.8 529.4 1333.7 527.1 1334.6 524.0C1335.5 520.6 1336.4 517.0 1337.2 513.2C1338.1 509.0 1338.9 504.1 1339.9 500.0C1340.7 496.5 1340.7 492.5 1342.6 490.2C1344.3 488.1 1347.7 486.5 1350.1 486.4C1352.3 486.3 1354.7 487.1 1356.4 488.9C1359.1 491.8 1359.9 498.8 1361.4 505.2C1363.4 514.1 1364.5 537.7 1366.4 537.8C1367.9 537.9 1369.3 523.6 1371.4 517.8C1373.2 513.0 1375.7 505.1 1377.7 505.2C1379.9 505.3 1382.2 514.4 1384.1 520.3C1386.6 528.3 1388.7 537.9 1390.3 549.2C1392.5 564.7 1392.4 605.0 1394.0 605.0C1395.4 605.0 1397.3 561.3 1399.1 561.3C1401.0 561.3 1403.2 606.1 1405.1 606.1C1407.0 606.1 1408.9 562.6 1410.4 562.6C1411.7 562.6 1413.0 580.2 1413.7 591.6C1414.7 607.7 1414.1 630.4 1414.5 650.0C1414.9 669.9 1415.5 691.0 1416.0 710.0C1416.5 727.2 1416.2 758.7 1417.6 759.0C1418.0 759.1 1418.5 757.5 1418.9 755.8C1420.1 750.2 1420.2 732.2 1420.9 718.8C1421.7 702.8 1422.8 684.6 1423.6 666.0C1424.5 645.2 1424.9 616.0 1426.2 600.0C1426.9 590.8 1427.7 585.6 1428.8 578.4C1429.9 571.0 1430.6 563.1 1432.8 556.0C1435.0 549.0 1438.7 541.6 1442.0 536.2C1444.5 532.0 1447.5 529.0 1450.0 525.6C1452.3 522.4 1454.7 519.8 1456.6 516.4C1458.7 512.8 1460.1 508.5 1461.8 504.5C1463.6 500.4 1464.7 493.4 1467.1 492.0C1468.6 491.1 1470.7 492.1 1472.4 492.6C1474.2 493.1 1476.4 493.4 1477.7 495.2C1479.9 498.3 1479.5 505.5 1480.3 512.4C1481.4 522.9 1481.6 551.9 1483.0 552.0C1484.0 552.1 1485.9 540.0 1486.9 532.2C1488.3 521.3 1486.7 500.0 1489.6 492.6C1490.9 489.2 1493.1 488.8 1494.9 486.0C1497.5 482.0 1499.7 473.3 1502.8 470.2C1504.8 468.2 1506.7 467.9 1509.4 466.9C1513.2 465.5 1519.8 462.7 1523.9 463.6C1527.5 464.4 1530.0 470.9 1533.1 470.8C1536.2 470.7 1539.7 463.1 1542.4 462.9C1544.4 462.8 1546.3 464.1 1547.7 466.2C1550.6 470.6 1550.6 482.6 1551.6 492.6C1553.0 505.8 1553.6 522.9 1554.3 538.8C1555.0 555.8 1555.3 576.7 1555.6 591.6C1555.8 602.5 1555.7 609.4 1556.2 620.0C1556.9 633.5 1558.5 666.0 1559.8 666.0C1561.0 666.0 1561.9 641.4 1563.5 630.0C1565.0 619.5 1566.8 608.5 1568.8 600.0C1570.3 593.5 1571.9 583.1 1573.6 583.0C1575.0 582.9 1576.8 588.6 1578.0 594.3C1581.2 609.4 1580.8 651.5 1582.0 680.0C1583.2 708.4 1583.7 765.1 1585.1 765.1C1586.1 765.1 1587.5 741.6 1588.5 727.1C1589.8 707.5 1590.3 680.3 1591.5 658.2C1592.6 637.7 1593.4 616.0 1595.4 598.8C1597.0 585.4 1598.2 573.1 1601.4 563.2C1603.9 555.4 1607.5 550.1 1611.3 543.4C1615.4 536.2 1619.6 525.7 1625.1 521.6C1629.2 518.5 1634.9 519.7 1639.0 517.6C1642.8 515.6 1645.6 510.4 1648.9 509.7C1651.5 509.1 1654.9 509.9 1656.8 511.7C1659.2 513.9 1659.7 518.3 1660.8 523.6C1662.8 533.2 1663.1 552.1 1664.1 565.5C1665.0 577.8 1665.7 600.8 1666.7 600.8C1667.8 600.8 1668.6 569.9 1670.7 559.2C1672.0 552.3 1673.0 544.8 1675.6 542.4C1677.1 541.1 1679.3 540.8 1681.0 541.5C1683.6 542.5 1685.8 547.4 1688.1 551.3C1691.1 556.3 1694.6 562.8 1697.0 569.1C1699.5 575.8 1699.7 584.3 1702.4 590.5C1704.7 595.9 1708.6 599.1 1711.3 604.8C1714.8 612.2 1717.1 622.9 1720.2 631.5C1723.1 639.5 1726.0 646.7 1729.1 654.7C1732.5 663.3 1735.9 673.5 1739.8 681.4C1743.1 688.1 1746.4 693.6 1750.5 699.2C1754.7 704.9 1761.7 709.8 1764.8 715.3C1767.4 719.9 1768.3 724.3 1769.2 729.5C1770.2 735.6 1769.3 743.5 1769.8 750.0C1770.3 755.9 1771.4 760.2 1771.9 766.7C1772.6 775.7 1772.1 798.8 1772.8 798.8C1773.4 798.8 1774.1 783.4 1775.4 775.6C1776.7 767.4 1777.7 754.7 1780.8 750.7C1782.3 748.8 1784.3 747.7 1786.1 748.0C1788.4 748.4 1790.7 754.5 1793.3 755.1C1795.5 755.6 1798.0 753.7 1800.4 752.5C1803.3 751.1 1806.3 748.9 1809.3 747.1C1812.3 745.3 1815.0 744.2 1818.2 741.8C1822.6 738.4 1828.6 732.9 1832.5 727.7C1836.2 722.8 1838.8 717.3 1841.4 711.7C1844.1 706.0 1846.5 700.2 1848.5 693.9C1850.7 687.2 1852.5 677.2 1853.9 672.5C1854.6 670.1 1855.1 669.1 1855.7 667.2C1856.3 665.2 1856.8 663.0 1857.5 660.9C1858.0 659.0 1858.6 657.3 1859.2 655.4C1859.8 653.4 1860.3 650.8 1861.0 649.3C1861.5 648.2 1862.2 647.8 1862.8 646.8C1863.5 645.5 1863.8 643.2 1864.5 642.1C1865.0 641.3 1865.8 641.5 1866.3 640.4C1868.3 636.2 1867.8 612.0 1869.0 604.8C1869.5 601.6 1870.2 600.3 1870.8 597.9C1871.4 595.0 1872.0 588.7 1872.6 588.7C1873.4 588.7 1873.9 604.1 1875.3 604.8C1875.8 605.0 1876.3 604.4 1876.8 604.1C1877.3 603.7 1877.8 603.3 1878.3 602.8C1878.9 602.3 1879.4 601.7 1879.8 601.0C1880.4 600.3 1880.8 599.1 1881.4 598.4C1881.8 597.8 1882.4 597.5 1882.9 596.9C1883.4 596.2 1883.8 595.0 1884.4 594.5C1884.8 594.2 1885.4 594.6 1885.9 594.1C1887.3 592.6 1887.8 585.7 1888.6 579.8C1889.8 570.6 1889.1 545.2 1891.3 544.2C1891.9 543.9 1892.9 544.9 1893.5 546.0C1895.0 548.8 1894.7 557.1 1895.2 564.5C1896.0 575.7 1896.8 593.5 1897.3 606.7C1897.8 618.5 1898.1 625.8 1898.3 640.0C1898.7 665.2 1898.4 745.0 1898.6 745.0C1898.9 745.0 1899.7 630.3 1900.2 573.0L1900.2 1299.0" fill="none" stroke="#bfbf00" stroke-width="5" stroke-linejoin="round"/>
<g stroke="#000" stroke-width="3.2" stroke-linecap="butt">
<line x1="385.6" y1="902.6" x2="467.7" y2="892.6"/>
<line x1="705.5" y1="911.3" x2="762.6" y2="900.7"/>
<line x1="681.2" y1="978.8" x2="759.4" y2="983"/>
<line x1="1474.6" y1="1061.9" x2="1515.7" y2="1105.1"/>
<line x1="1342.7" y1="1140.8" x2="1394.6" y2="1175.4"/>
<line x1="1298.4" y1="1145.2" x2="1355.7" y2="1203.5"/>
<line x1="1682.2" y1="697.8" x2="1647.1" y2="780.4"/>
</g>
<line x1="274" y1="1084.4" x2="376" y2="1084.4" stroke="#804000" stroke-width="1.4"/>
<line x1="271" y1="1144.5" x2="372" y2="1144.5" stroke="#7f00ff" stroke-width="5"/>
<line x1="270" y1="1200" x2="372" y2="1200" stroke="#bfbf00" stroke-width="4.2"/>
<g fill="#000"><text x="89.20" y="1388.00" font-size="50.41" textLength="107.48" lengthAdjust="spacingAndGlyphs">4000</text><text x="334.40" y="1388.00" font-size="50.41" textLength="106.97" lengthAdjust="spacingAndGlyphs">3500</text><text x="578.60" y="1388.00" font-size="50.41" textLength="107.35" lengthAdjust="spacingAndGlyphs">3000</text><text x="821.60" y="1388.00" font-size="50.41" textLength="107.60" lengthAdjust="spacingAndGlyphs">2500</text><text x="1065.60" y="1388.00" font-size="50.41" textLength="108.18" lengthAdjust="spacingAndGlyphs">2000</text><text x="1310.80" y="1388.00" font-size="50.41" textLength="107.12" lengthAdjust="spacingAndGlyphs">1500</text><text x="1556.00" y="1388.00" font-size="50.41" textLength="105.46" lengthAdjust="spacingAndGlyphs">1000</text><text x="1812.40" y="1388.00" font-size="50.41" textLength="80.25" lengthAdjust="spacingAndGlyphs">500</text><text x="761.20" y="1478.80" font-size="57.30" textLength="496.44" lengthAdjust="spacingAndGlyphs">Wavenumbers / cm</text><text x="1256.00" y="1449.80" font-size="40.72" textLength="38.73" lengthAdjust="spacingAndGlyphs">-1</text><text transform="translate(85.60,902.60) rotate(-90)" font-size="59.11" textLength="453.74" lengthAdjust="spacingAndGlyphs">Transmittance / %</text><text x="188.40" y="112.20" font-size="44.60" font-weight="bold" textLength="41.76" lengthAdjust="spacingAndGlyphs">b)</text><text x="181.80" y="261.00" font-size="44.60" font-weight="bold" textLength="41.16" lengthAdjust="spacingAndGlyphs">c)</text><text x="182.60" y="546.00" font-size="44.60" font-weight="bold" textLength="41.70" lengthAdjust="spacingAndGlyphs">a)</text><text x="232.00" y="1092.40" font-size="44.60" font-weight="bold" textLength="41.85" lengthAdjust="spacingAndGlyphs">a)</text><text x="232.40" y="1156.00" font-size="44.60" font-weight="bold" textLength="41.76" lengthAdjust="spacingAndGlyphs">b)</text><text x="230.80" y="1208.60" font-size="44.60" font-weight="bold" textLength="42.27" lengthAdjust="spacingAndGlyphs">c)</text><text x="400.00" y="1101.00" font-size="44.60" textLength="191.07" lengthAdjust="spacingAndGlyphs">P2 (20%)</text><text x="396.00" y="1160.60" font-size="44.60" textLength="191.18" lengthAdjust="spacingAndGlyphs">P3 (30%)</text><text x="396.00" y="1216.00" font-size="44.60" textLength="190.62" lengthAdjust="spacingAndGlyphs">P4 (40%)</text><text x="202.40" y="912.40" font-size="35.60" textLength="134.22" lengthAdjust="spacingAndGlyphs">3350 cm</text><text x="336.60" y="889.20" font-size="35.60" textLength="31.08" lengthAdjust="spacingAndGlyphs">-1</text><text x="777.00" y="904.80" font-size="35.60" textLength="135.13" lengthAdjust="spacingAndGlyphs">2854 cm</text><text x="911.20" y="880.80" font-size="35.60" textLength="33.06" lengthAdjust="spacingAndGlyphs">-1</text><text x="778.20" y="1002.20" font-size="35.60" textLength="134.03" lengthAdjust="spacingAndGlyphs">2920 cm</text><text x="912.00" y="978.60" font-size="35.60" textLength="31.36" lengthAdjust="spacingAndGlyphs">-1</text><text x="1521.80" y="1116.20" font-size="35.60" textLength="133.80" lengthAdjust="spacingAndGlyphs">1307 cm</text><text x="1655.80" y="1092.60" font-size="35.60" textLength="30.67" lengthAdjust="spacingAndGlyphs">-1</text><text x="1407.60" y="1188.80" font-size="35.60" textLength="132.34" lengthAdjust="spacingAndGlyphs">1570 cm</text><text x="1540.20" y="1164.20" font-size="35.60" textLength="31.50" lengthAdjust="spacingAndGlyphs">-1</text><text x="1283.20" y="1270.20" font-size="35.60" textLength="133.21" lengthAdjust="spacingAndGlyphs">1640 cm</text><text x="1416.60" y="1246.60" font-size="35.60" textLength="31.61" lengthAdjust="spacingAndGlyphs">-1</text><text x="1592.80" y="842.60" font-size="35.60" textLength="116.32" lengthAdjust="spacingAndGlyphs">822 cm</text><text x="1709.40" y="819.00" font-size="35.60" textLength="31.61" lengthAdjust="spacingAndGlyphs">-1</text></g>
</svg>
</body></html>
